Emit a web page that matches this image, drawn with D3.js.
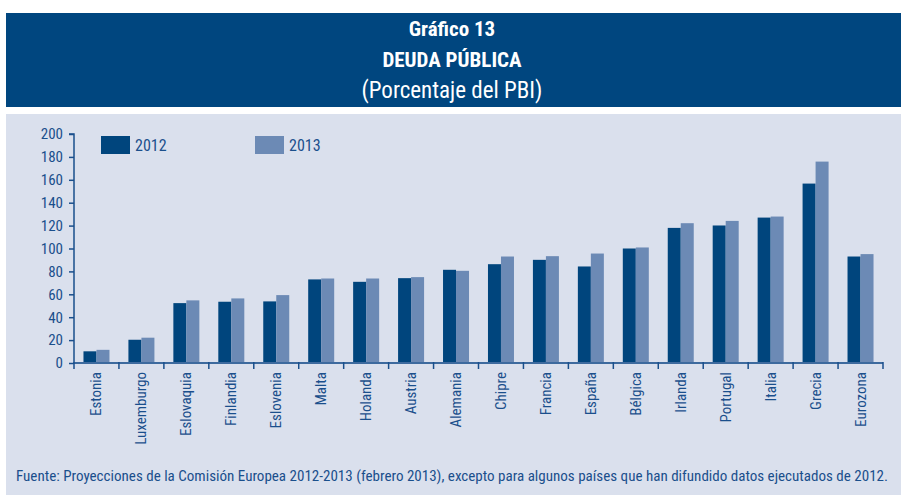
<!DOCTYPE html>
<html>
<head>
<meta charset="utf-8">
<script src="https://cdn.jsdelivr.net/npm/d3@7"></script>
<style>
  html, body { margin: 0; padding: 0; background: #ffffff; }
  svg { display: block; }
  text { font-family: "Liberation Sans Narrow", "Roboto Condensed", "DejaVu Sans Condensed", "Open Sans", sans-serif; }
</style>
</head>
<body>
<svg id="chart" width="901" height="495"></svg>
<script>
const categories = ["Estonia","Luxemburgo","Eslovaquia","Finlandia","Eslovenia","Malta","Holanda","Austria","Alemania","Chipre","Francia","España","Bélgica","Irlanda","Portugal","Italia","Grecia","Eurozona"];
const values2012 = [10.2, 20.3, 52.3, 53.5, 53.8, 73.0, 70.9, 74.1, 81.4, 86.3, 90.1, 84.3, 100.0, 118.0, 120.1, 127.0, 156.7, 93.0];
const values2013 = [11.5, 22.1, 54.7, 56.4, 59.3, 73.8, 73.8, 75.0, 80.5, 93.0, 93.3, 95.6, 100.9, 122.1, 124.1, 127.9, 175.9, 95.1];
const seriesNames = ["2012", "2013"];
const yTicks = [0, 20, 40, 60, 80, 100, 120, 140, 160, 180, 200];
const titleLines = ["Gráfico 13", "DEUDA PÚBLICA", "(Porcentaje del PBI)"];
const sourceNote = "Fuente: Proyecciones de la Comisión Europea 2012-2013 (febrero 2013), excepto para algunos países que han difundido datos ejecutados de 2012.";

const colors = ["#00457d", "#6c8ab5"];
const textColor = "#1a4f8c";
const svg = d3.select("#chart");

// Header
svg.append("rect").attr("x", 6).attr("y", 13).attr("width", 895).attr("height", 94).attr("fill", "#00467f");
const tY = [36, 67, 98];
titleLines.forEach((t, i) => {
  svg.append("text").attr("x", 452).attr("y", tY[i]).attr("text-anchor", "middle")
    .attr("fill", "#ffffff").attr("font-size", i < 2 ? 21 : 23).attr("font-weight", i < 2 ? "bold" : "normal")
    .text(t);
});

// Panel
svg.append("rect").attr("x", 6).attr("y", 114).attr("width", 895).attr("height", 381).attr("fill", "#dae0ed");

const x0 = 74, x1 = 883, yTop = 134, yBottom = 363;
const x = d3.scaleBand().domain(categories).range([x0, x1]).paddingInner(0).paddingOuter(0);
const y = d3.scaleLinear().domain([0, 200]).range([yBottom, yTop]);
const barW = 13;

const data = categories.map((c, i) => ({ c, v: [values2012[i], values2013[i]] }));
const g = svg.append("g");
data.forEach(d => {
  const cx = x(d.c) + x.bandwidth() / 2;
  d.v.forEach((v, s) => {
    g.append("rect")
      .attr("x", cx - barW + s * barW)
      .attr("y", y(v))
      .attr("width", barW)
      .attr("height", y(0) - y(v))
      .attr("fill", colors[s]);
  });
});

// Y axis
const yAxis = d3.axisLeft(y).tickValues(yTicks).tickSize(5).tickPadding(6).tickFormat(d3.format("d"));
const ya = svg.append("g").attr("transform", `translate(${x0},0)`).call(yAxis);
ya.select(".domain").attr("stroke", "#1a4f8c").attr("stroke-width", 1.5).attr("d", `M-5,${yTop}H0V${yBottom}`);
ya.selectAll(".tick line").attr("stroke", "#1a4f8c").attr("stroke-width", 1.5);
ya.selectAll(".tick text").attr("fill", textColor).attr("font-size", 15)
  .style("font-family", "\"Liberation Sans Narrow\", \"Roboto Condensed\", \"DejaVu Sans Condensed\", sans-serif");

// X axis
const xAxis = d3.axisBottom(x).tickSize(0).tickFormat("");
const xa = svg.append("g").attr("transform", `translate(0,${yBottom})`).call(xAxis);
xa.select(".domain").attr("stroke", "#3d6a9e").attr("stroke-width", 2).attr("d", `M${x0},0H${x1}`);
const boundaries = categories.map(c => x(c)).concat([x1]);
xa.selectAll("line.bnd").data(boundaries).enter().append("line").attr("class", "bnd")
  .attr("x1", d => d).attr("x2", d => d).attr("y1", -1).attr("y2", 6)
  .attr("stroke", "#1a4f8c").attr("stroke-width", 1.5);
xa.selectAll("text.cat").data(categories).enter().append("text").attr("class", "cat")
  .attr("transform", d => `translate(${x(d) + x.bandwidth() / 2 + 5},9) rotate(-90)`)
  .attr("text-anchor", "end").attr("fill", textColor).attr("font-size", 15)
  .text(d => d);

// Legend
const legX = [101, 255];
seriesNames.forEach((n, i) => {
  svg.append("rect").attr("x", legX[i]).attr("y", 136).attr("width", 29).attr("height", 18).attr("fill", colors[i]);
  svg.append("text").attr("x", legX[i] + 34).attr("y", 151).attr("fill", textColor).attr("font-size", 16).text(n);
});

// Footer
svg.append("text").attr("x", 16).attr("y", 481).attr("fill", textColor).attr("font-size", 14)
  .attr("textLength", 872).attr("lengthAdjust", "spacingAndGlyphs").text(sourceNote);
</script>
</body>
</html>
